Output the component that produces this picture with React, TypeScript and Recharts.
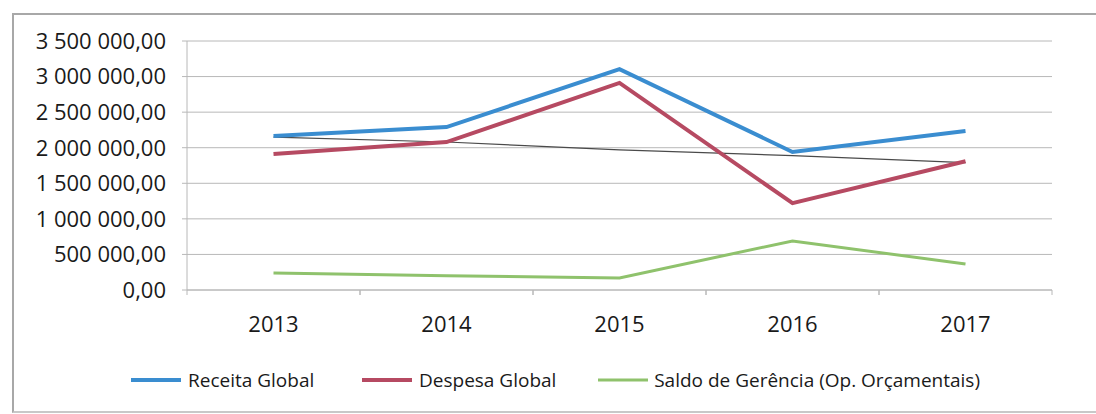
import React from 'react';
import { LineChart, Line, XAxis, YAxis, CartesianGrid, Legend } from 'recharts';

const years = ['2013', '2014', '2015', '2016', '2017'];
const receitaGlobal = [2165000, 2290000, 3105000, 1940000, 2235000];
const despesaGlobal = [1910000, 2080000, 2910000, 1220000, 1810000];
const saldoGerencia = [240000, 200000, 170000, 690000, 365000];
const tendenciaDespesa = [2150000, 2080000, 1970000, 1890000, 1790000];
const yTicks = [0, 500000, 1000000, 1500000, 2000000, 2500000, 3000000, 3500000];

const seriesNames = ['Receita Global', 'Despesa Global', 'Saldo de Gerência (Op. Orçamentais)'];
const seriesColors = ['#3a8dd0', '#b64a62', '#8fc26c'];
const legendItemWidths = [231, 236, 382];

const data = years.map((y, i) => ({
  year: y,
  receita: receitaGlobal[i],
  despesa: despesaGlobal[i],
  saldo: saldoGerencia[i],
  trend: tendenciaDespesa[i],
}));

const FONT = '"Open Sans", sans-serif';
const GRID = '#b8b8b8';

function fmt(v: number): string {
  const [i, d] = v.toFixed(2).split('.');
  return i.replace(/\B(?=(\d{3})+(?!\d))/g, ' ') + ',' + d;
}

const XTick = (props: any) => {
  const { x, y, payload } = props;
  const half = payload && payload.offset ? payload.offset : 0;
  const axisY = y - 26;
  return (
    <g>
      <line x1={x - half} x2={x - half} y1={axisY} y2={axisY + 5} stroke={GRID} />
      <line x1={x + half} x2={x + half} y1={axisY} y2={axisY + 5} stroke={GRID} />
      <text x={x} y={y} dy={15.6} textAnchor="middle" fill="#1a1a1a" fontSize={22} fontFamily={FONT}>
        {payload.value}
      </text>
    </g>
  );
};

const LegendContent = () => (
  <div style={{ display: 'flex', alignItems: 'center', height: 40, paddingLeft: 131, fontFamily: FONT, fontSize: 19, color: '#1a1a1a' }}>
    {seriesNames.map((n, i) => (
      <div key={n} style={{ display: 'flex', alignItems: 'center', width: legendItemWidths[i], whiteSpace: 'nowrap' }}>
        <svg width={52} height={10} style={{ marginRight: 5 }}>
          <line x1={0} x2={50} y1={5} y2={5} stroke={seriesColors[i]} strokeWidth={i === 2 ? 3 : 4} />
        </svg>
        <span>{n}</span>
      </div>
    ))}
  </div>
);

export default function App() {
  return (
    <div style={{ position: 'absolute', left: 0, top: 0, width: 1096, height: 414, overflow: 'hidden', background: '#fff' }}>
      <div style={{ position: 'absolute', left: 12, top: 13, width: 1100, height: 396, borderTop: '2px solid #a8a8a8', borderLeft: '2px solid #a8a8a8', borderBottom: '2px solid #c8c8c8' }} />
      <div style={{ position: 'absolute', left: 0, top: 0 }}>
        <LineChart width={1096} height={414} data={data} margin={{ top: 41, right: 44, bottom: 14, left: 0 }}>
          <CartesianGrid horizontal={true} vertical={false} stroke={GRID} />
          <XAxis
            dataKey="year"
            scale="band"
            height={70}
            tickLine={false}
            tickSize={5}
            tickMargin={21}
            axisLine={{ stroke: GRID }}
            tick={<XTick />}
            interval={0}
          />
          <YAxis
            width={187}
            domain={[0, 3500000]}
            ticks={yTicks}
            tickFormatter={fmt}
            tickSize={5}
            tickMargin={16}
            tickLine={{ stroke: GRID }}
            axisLine={{ stroke: GRID }}
            tick={{ fill: '#1a1a1a', fontSize: 22, fontFamily: FONT }}
            interval={0}
          />
          <Legend verticalAlign="bottom" align="left" content={<LegendContent />} wrapperStyle={{ left: 0, width: 1096 }} />
          <Line dataKey="trend" stroke="#4a4a4a" strokeWidth={1.2} dot={false} legendType="none" isAnimationActive={false} />
          <Line dataKey="saldo" name={seriesNames[2]} stroke={seriesColors[2]} strokeWidth={3} dot={false} isAnimationActive={false} />
          <Line dataKey="despesa" name={seriesNames[1]} stroke={seriesColors[1]} strokeWidth={4} dot={false} isAnimationActive={false} />
          <Line dataKey="receita" name={seriesNames[0]} stroke={seriesColors[0]} strokeWidth={4} dot={false} isAnimationActive={false} />
        </LineChart>
      </div>
    </div>
  );
}
